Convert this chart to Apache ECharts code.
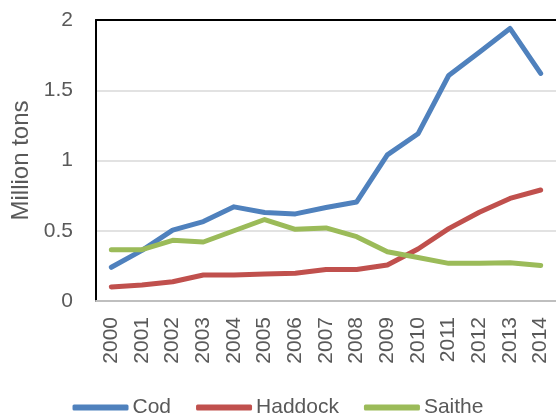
<!DOCTYPE html>
<html>
<head>
<meta charset="utf-8">
<script src="https://cdn.jsdelivr.net/npm/echarts@6/dist/echarts.min.js"></script>
<style>
html,body{margin:0;padding:0;background:#fff;}
#chart{width:556px;height:414px;}
</style>
</head>
<body>
<div id="chart"></div>
<script>
const years = ['2000','2001','2002','2003','2004','2005','2006','2007','2008','2009','2010','2011','2012','2013','2014'];
const cod = [0.24,0.36,0.505,0.565,0.67,0.63,0.62,0.665,0.705,1.04,1.19,1.605,1.77,1.94,1.62];
const haddock = [0.10,0.114,0.137,0.185,0.185,0.193,0.198,0.224,0.224,0.256,0.37,0.515,0.632,0.73,0.79];
const saithe = [0.365,0.365,0.432,0.42,0.5,0.58,0.51,0.52,0.458,0.35,0.31,0.268,0.268,0.272,0.252];
const yTicks = [0, 0.5, 1, 1.5, 2];

const FONT = 'Liberation Sans';
const TXT = '#595959';
const chart = echarts.init(document.getElementById('chart'), null, {renderer:'canvas'});
function line(name, data, color){
  return {
    name, type:'line', data, xAxisIndex:0, yAxisIndex:0,
    showSymbol:false, symbol:'none', smooth:false,
    lineStyle:{color, width:5, cap:'round', join:'round'},
    itemStyle:{color}
  };
}
chart.setOption({
  animation:false,
  textStyle:{fontFamily:FONT},
  grid:{left:96, top:20, width:463, height:281, containLabel:false},
  legend:{
    top:392, left:'center',
    icon:'roundRect', itemWidth:56, itemHeight:6, itemGap:25,
    textStyle:{fontFamily:FONT, fontSize:21, color:TXT, padding:[0,0,0,-1]},
    data:['Cod','Haddock','Saithe']
  },
  xAxis:[{
    type:'category', data:years, boundaryGap:true, position:'bottom',
    axisLine:{show:true, lineStyle:{color:'#BFBFBF', width:2}},
    axisTick:{show:false},
    axisLabel:{rotate:90, fontFamily:FONT, fontSize:21, color:TXT, margin:16, interval:0}
  },{
    type:'category', data:years, boundaryGap:true, position:'top',
    axisLine:{show:true, lineStyle:{color:'#000', width:2}},
    axisTick:{show:false}, axisLabel:{show:false}, splitLine:{show:false}
  }],
  yAxis:{
    type:'value', min:yTicks[0], max:yTicks[yTicks.length-1], interval:0.5,
    name:'Million tons', nameLocation:'middle', nameRotate:90, nameGap:62,
    nameTextStyle:{fontFamily:FONT, fontSize:24, color:TXT},
    axisLine:{show:true, lineStyle:{color:'#000', width:2}},
    axisTick:{show:false},
    axisLabel:{fontFamily:FONT, fontSize:21, color:TXT, margin:23},
    splitLine:{show:true, lineStyle:{color:'#D9D9D9', width:1.5}}
  },
  series:[
    line('Cod', cod, '#4F81BD'),
    line('Haddock', haddock, '#C0504D'),
    line('Saithe', saithe, '#9BBB59')
  ]
});
</script>
</body>
</html>
